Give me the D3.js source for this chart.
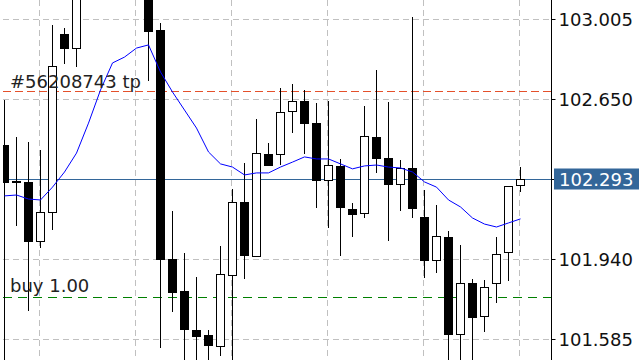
<!DOCTYPE html>
<html>
<head>
<meta charset="utf-8">
<script src="https://cdn.jsdelivr.net/npm/d3@7"></script>
<style>
  html, body { margin: 0; padding: 0; background: #ffffff; }
  svg { display: block; }
</style>
</head>
<body>
<div id="chart"></div>
<script>
// ---- data (prices) ----
const opens  = [102.446,102.286,102.282,102.020,102.149,102.938,102.876,103.111,103.160,103.220,103.180,103.240,103.150,102.956,101.940,101.798,101.625,101.603,101.554,101.869,102.193,101.953,102.406,102.406,102.597,102.641,102.543,102.290,102.353,102.162,102.144,102.481,102.388,102.273,102.344,102.126,101.936,102.038,101.607,101.833,101.687,101.833,101.971,102.268];
const highs  = [102.646,102.481,102.459,102.424,102.978,102.965,103.178,103.200,103.250,103.280,103.300,103.290,103.180,102.987,102.153,101.967,101.860,101.625,101.998,102.251,102.366,102.561,102.455,102.699,102.717,102.690,102.632,102.641,102.384,102.189,102.619,102.779,102.637,102.379,103.014,102.246,102.180,102.064,102.002,101.851,101.847,102.038,102.264,102.348];
const lows   = [101.447,102.086,101.709,101.989,102.069,102.805,102.792,103.100,103.130,103.150,103.160,103.120,102.730,101.545,101.705,101.447,101.447,101.447,101.510,101.447,101.851,101.949,102.353,102.357,102.499,102.406,102.166,102.078,101.953,102.038,102.122,102.322,102.020,102.153,102.122,101.856,101.878,101.447,101.447,101.447,101.616,101.745,101.842,102.237];
const closes = [102.282,102.284,102.020,102.149,102.796,102.876,103.111,103.160,103.220,103.180,103.240,103.150,102.952,101.940,101.794,101.629,101.598,101.558,101.874,102.193,101.958,102.410,102.357,102.592,102.641,102.543,102.290,102.357,102.171,102.140,102.486,102.388,102.273,102.344,102.166,101.936,102.042,101.607,101.833,101.683,101.816,101.962,102.264,102.293];
const maValues = [102.220,102.224,102.206,102.202,102.259,102.326,102.410,102.543,102.690,102.810,102.836,102.876,102.890,102.770,102.681,102.601,102.521,102.415,102.362,102.348,102.313,102.322,102.322,102.348,102.370,102.393,102.384,102.384,102.362,102.340,102.353,102.357,102.348,102.344,102.326,102.282,102.259,102.202,102.171,102.122,102.095,102.082,102.100,102.118];
const priceTicks = [103.005, 102.650, 102.295, 101.940, 101.585];
const timeGridIdx = [3, 11, 19, 27, 35, 43];
const tpLabel = "#56208743 tp";
const tpPrice = 102.685;
const buyLabel = "buy 1.00";
const buyPrice = 101.773;
const bidPrice = 102.293;

// ---- layout ----
const W = 640, H = 360;
const plotLeft = 3, axisX = 551.5;
const FONT = "'DejaVu Sans', sans-serif";

const svg = d3.select("#chart").append("svg")
  .attr("width", W).attr("height", H);

const n = opens.length;
const x = d3.scaleLinear().domain([0, n - 1]).range([4.5, 520.5]);
const y = d3.scaleLinear().domain([101.585, 103.005]).range([339, 19]);
const cy = v => Math.round(y(v)) + 0.5;

svg.append("defs").append("clipPath").attr("id", "plot")
  .append("rect").attr("x", plotLeft).attr("y", 0)
  .attr("width", axisX - plotLeft).attr("height", H);

const plot = svg.append("g").attr("clip-path", "url(#plot)");

// grid
plot.append("g").selectAll("line.h").data(priceTicks).join("line")
  .attr("x1", plotLeft).attr("x2", axisX)
  .attr("y1", d => cy(d)).attr("y2", d => cy(d))
  .attr("stroke", "#c0c0c0").attr("stroke-width", 1)
  .attr("stroke-dasharray", "6,4");
plot.append("g").selectAll("line.v").data(timeGridIdx).join("line")
  .attr("x1", d => x(d) - 1).attr("x2", d => x(d) - 1)
  .attr("y1", 0).attr("y2", H)
  .attr("stroke", "#c0c0c0").attr("stroke-width", 1)
  .attr("stroke-dasharray", "6,4");

// order lines
plot.append("line")
  .attr("x1", plotLeft).attr("x2", axisX)
  .attr("y1", cy(tpPrice)).attr("y2", cy(tpPrice))
  .attr("stroke", "#e4502a").attr("stroke-width", 1)
  .attr("stroke-dasharray", "8,4");
plot.append("line")
  .attr("x1", plotLeft).attr("x2", axisX)
  .attr("y1", cy(buyPrice)).attr("y2", cy(buyPrice))
  .attr("stroke", "#008000").attr("stroke-width", 1)
  .attr("stroke-dasharray", "9,6");
// bid line
plot.append("line")
  .attr("x1", plotLeft).attr("x2", axisX)
  .attr("y1", cy(bidPrice)).attr("y2", cy(bidPrice))
  .attr("stroke", "#336699").attr("stroke-width", 1);

// candles
const candles = d3.range(n).map(i => ({
  i, o: opens[i], h: highs[i], l: lows[i], c: closes[i]
}));
const cg = plot.append("g").selectAll("g").data(candles).join("g");
cg.append("line")
  .attr("x1", d => x(d.i)).attr("x2", d => x(d.i))
  .attr("y1", d => Math.round(y(d.h))).attr("y2", d => Math.round(y(d.l)))
  .attr("stroke", "#000").attr("stroke-width", 1);
cg.append("rect")
  .attr("x", d => x(d.i) - 4)
  .attr("width", 8)
  .attr("y", d => Math.round(y(Math.max(d.o, d.c))) + 0.5)
  .attr("height", d => Math.max(1, Math.round(y(Math.min(d.o, d.c))) - Math.round(y(Math.max(d.o, d.c)))))
  .attr("fill", d => d.c >= d.o ? "#ffffff" : "#000000")
  .attr("stroke", "#000").attr("stroke-width", 1);

// moving average
plot.append("path")
  .datum(maValues)
  .attr("d", d3.line().x((d, i) => x(i)).y(d => y(d)))
  .attr("fill", "none").attr("stroke", "#0000ff").attr("stroke-width", 1);

// order labels
svg.append("text").text(tpLabel)
  .attr("x", 10).attr("y", y(tpPrice) - 3.5)
  .attr("font-family", FONT).attr("font-size", 18).attr("fill", "#222");
svg.append("text").text(buyLabel)
  .attr("x", 10).attr("y", y(buyPrice) - 4.5)
  .attr("font-family", FONT).attr("font-size", 18).attr("fill", "#222");

// price axis
const axis = d3.axisRight(y).tickValues(priceTicks).tickSize(4).tickPadding(3)
  .tickFormat(d3.format(".3f"));
const ag = svg.append("g").attr("transform", `translate(${axisX},0)`).call(axis);
ag.select(".domain").attr("d", `M0,0V${H}`).attr("stroke", "#000");
ag.selectAll(".tick line").attr("stroke", "#000");
ag.selectAll(".tick text")
  .attr("font-family", FONT).attr("font-size", 18).attr("fill", "#111")
  .attr("dy", "0.36em");

// bid label
const bidY = y(bidPrice);
svg.append("rect")
  .attr("x", axisX + 2.5).attr("y", Math.round(bidY) - 10.5)
  .attr("width", 85).attr("height", 21)
  .attr("fill", "#336699");
svg.append("text").text(d3.format(".3f")(bidPrice))
  .attr("x", axisX + 7.5).attr("y", bidY).attr("dy", "0.36em")
  .attr("font-family", FONT).attr("font-size", 18).attr("fill", "#ffffff");
</script>
</body>
</html>
